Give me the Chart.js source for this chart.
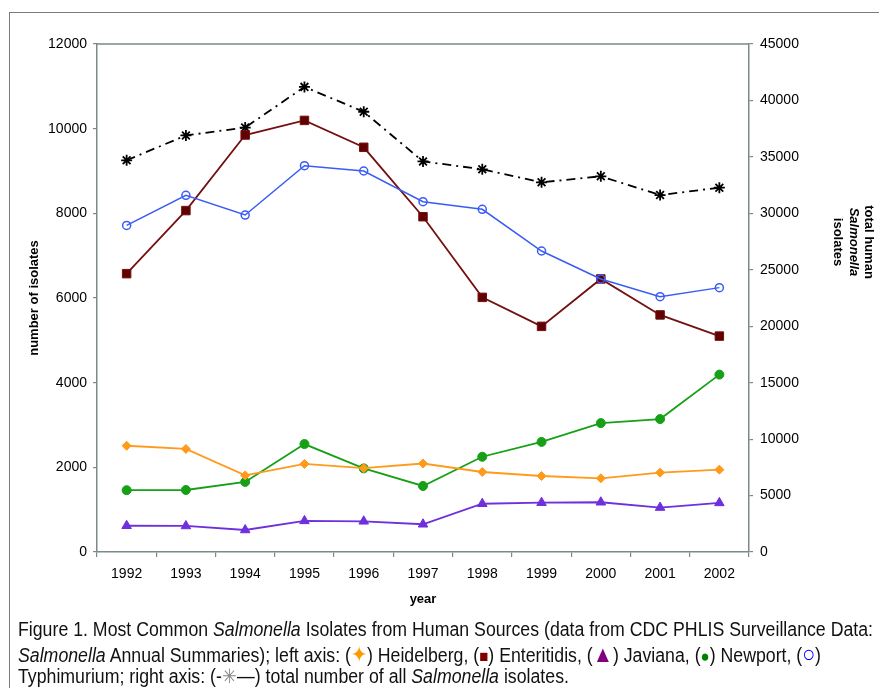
<!DOCTYPE html>
<html>
<head>
<meta charset="utf-8">
<script src="https://cdn.jsdelivr.net/npm/chart.js@4"></script>
<style>
    html, body { margin: 0; padding: 0; background: #fff; overflow: hidden; }
    body { width: 879px; height: 688px; position: relative; }
    #moldura { position: absolute; left: 9px; top: 12px; width: 900px; height: 700px; border: 1.5px solid #7a7a7a; box-sizing: border-box; }
    #grafico { position: absolute; left: 0; top: 0; }
    #legenda {
        position: absolute; left: 18px; top: 618px; white-space: nowrap;
        font-family: "Liberation Sans", Arial, sans-serif;
        font-size: 20px; line-height: 23.5px; color: #111;
        transform-origin: 0 0;
    }
    #legenda div { display: block; height: 23.5px; }
    #legenda span.linha { display: inline-block; }
    #legenda i { font-style: italic; }
</style>
</head>
<body>
<div id="moldura"></div>
<canvas id="grafico" width="879" height="620"></canvas>
<div id="legenda">
    <div><span class="linha" id="linha1">Figure 1. Most Common <i>Salmonella</i> Isolates from Human Sources (data from CDC PHLIS Surveillance Data:</span></div>
    <div><span class="linha"><i>Salmonella</i> Annual Summaries); left axis: (<span style="color:#ff9900;font-size:22px">✦</span>) Heidelberg, (<span style="color:#800000;font-size:17px">■</span>) Enteritidis, (<span style="color:#800080;font-size:23px">▲</span>) Javiana, (<span style="color:#008000;font-size:17px">●</span>) Newport, (<span style="color:#0000ff;font-size:24px">○</span>)</span></div>
    <div><span class="linha">Typhimurium; right axis: (-<span style="color:#888">✳</span>—) total number of all <i>Salmonella</i> isolates.</span></div>
</div>
<script>
let anos = ["1992", "1993", "1994", "1995", "1996", "1997", "1998", "1999", "2000", "2001", "2002"];

let heidelberg   = [2510, 2435, 1810, 2080, 1980, 2090, 1890, 1795, 1740, 1875, 1945];
let enteritidis  = [6575, 8065, 9850, 10195, 9560, 7920, 6015, 5330, 6450, 5600, 5100];
let javiana      = [620, 615, 520, 735, 725, 655, 1140, 1165, 1175, 1050, 1160];
let newport      = [1460, 1465, 1655, 2550, 1975, 1560, 2250, 2600, 3045, 3140, 4190];
let typhimurium  = [7715, 8425, 7960, 9125, 9000, 8275, 8095, 7110, 6450, 6030, 6245];
let totalGeral   = [34700, 36900, 37600, 41200, 39000, 34600, 33900, 32750, 33280, 31620, 32270];

let ticksEsquerda = [0, 2000, 4000, 6000, 8000, 10000, 12000];
let ticksDireita  = [0, 5000, 10000, 15000, 20000, 25000, 30000, 35000, 40000, 45000];

const corEixo = "#7c8889";
const fonteEixo = "'Liberation Sans', Arial, sans-serif";

// legenda em fonte condensada: estica a primeira linha até a largura do original
let legenda = document.getElementById("legenda");
let larguraLinha = document.getElementById("linha1").getBoundingClientRect().width;
legenda.style.transform = `scaleX(${855 / larguraLinha})`;

// borda superior da área do gráfico + título do eixo direito (com itálico)
const extras = {
    id: "extras",
    beforeDatasetsDraw(chart) {
        let a = chart.chartArea;
        let ctx = chart.ctx;
        ctx.save();
        ctx.strokeStyle = corEixo;
        ctx.lineWidth = 1.5;
        ctx.beginPath();
        ctx.moveTo(a.left, a.top);
        ctx.lineTo(a.right, a.top);
        ctx.stroke();
        ctx.restore();
    },
    afterDraw(chart) {
        let a = chart.chartArea;
        let ctx = chart.ctx;
        ctx.save();
        ctx.translate(a.right + 105, (a.top + a.bottom) / 2 - 56);
        ctx.rotate(Math.PI / 2);
        ctx.fillStyle = "#000";
        ctx.textAlign = "center";
        ctx.textBaseline = "middle";
        ctx.font = "bold 13px " + fonteEixo;
        ctx.fillText("total human", 0, -15);
        ctx.font = "italic bold 13px " + fonteEixo;
        ctx.fillText("Salmonella", 0, 0);
        ctx.font = "bold 13px " + fonteEixo;
        ctx.fillText("isolates", 0, 16);
        ctx.restore();
    }
};

function serie(rotulo, dados, cor, estilo, raio, extra) {
    return Object.assign({
        label: rotulo,
        data: dados,
        borderColor: cor,
        backgroundColor: cor,
        borderWidth: 1.8,
        pointStyle: estilo,
        pointRadius: raio,
        pointHoverRadius: raio,
        pointBorderWidth: 1,
        tension: 0,
        yAxisID: "y"
    }, extra || {});
}

new Chart(document.getElementById("grafico"), {
    type: "line",
    data: {
        labels: anos,
        datasets: [
            serie("Heidelberg", heidelberg, "#ff9a1a", "rectRot", 4.5),
            serie("Javiana", javiana, "#6f2fdc", "triangle", 5.5),
            serie("Newport", newport, "#17a017", "circle", 4.5),
            serie("Typhimurium", typhimurium, "#3a5cf5", "circle", 4, {
                backgroundColor: "transparent", pointBorderWidth: 1.5, borderWidth: 1.5
            }),
            serie("Enteritidis", enteritidis, "#741010", "rect", 6, { pointBackgroundColor: "#600000" }),
            serie("Total", totalGeral, "#000000", "star", 5.5, {
                yAxisID: "y2", borderWidth: 1.8, borderDash: [9, 5, 2, 5], pointBorderWidth: 1.8
            })
        ]
    },
    options: {
        responsive: false,
        animation: false,
        layout: { padding: { top: 44, left: 0, right: 0, bottom: 0 } },
        plugins: { legend: { display: false }, tooltip: { enabled: false } },
        scales: {
            x: {
                offset: true,
                afterFit: s => { s.height = 68; },
                grid: { offset: true, drawOnChartArea: false, drawTicks: true, tickLength: 5, color: corEixo, lineWidth: 1.2 },
                border: { color: corEixo, width: 1.5 },
                ticks: { color: "#000", font: { family: fonteEixo, size: 14 }, padding: 9, maxRotation: 0 },
                title: { display: true, text: "year", color: "#000", font: { family: fonteEixo, size: 13, weight: "bold" }, padding: { top: 0, bottom: 13 } }
            },
            y: {
                position: "left",
                min: 0,
                max: 12000,
                afterFit: s => { s.width = 97; },
                afterBuildTicks: s => { s.ticks = ticksEsquerda.map(v => ({ value: v })); },
                grid: { drawOnChartArea: false, drawTicks: true, tickLength: 4, color: corEixo, lineWidth: 1.2 },
                border: { color: corEixo, width: 1.5 },
                ticks: { color: "#000", font: { family: fonteEixo, size: 14 }, padding: 6, callback: v => String(v) },
                title: { display: true, text: "number of isolates", color: "#000", font: { family: fonteEixo, size: 13, weight: "bold" }, padding: { top: 27, bottom: 0 } }
            },
            y2: {
                position: "right",
                min: 0,
                max: 45000,
                afterFit: s => { s.width = 130; },
                afterBuildTicks: s => { s.ticks = ticksDireita.map(v => ({ value: v })); },
                grid: { drawOnChartArea: false, drawTicks: true, tickLength: 4, color: corEixo, lineWidth: 1.2 },
                border: { color: corEixo, width: 1.5 },
                ticks: { color: "#000", font: { family: fonteEixo, size: 14 }, padding: 7, callback: v => String(v) }
            }
        }
    },
    plugins: [extras]
});
</script>
</body>
</html>
